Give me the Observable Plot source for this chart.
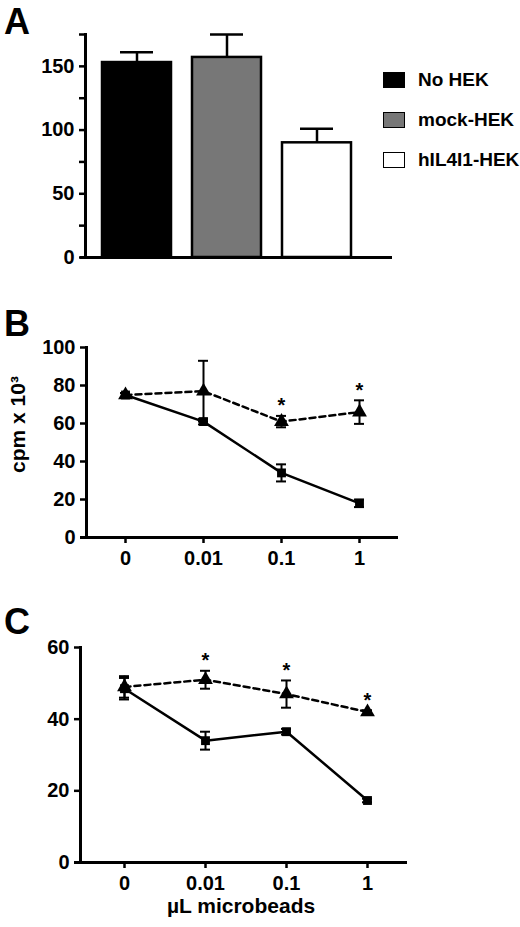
<!DOCTYPE html>
<html>
<head>
<meta charset="utf-8">
<script src="https://cdn.jsdelivr.net/npm/d3@7"></script>
<script src="https://cdn.jsdelivr.net/npm/@observablehq/plot@0.6"></script>
<style>
  body { margin: 0; background: white; font-family: "Liberation Sans", Arial, sans-serif; font-weight: bold; }
  #fig { position: relative; width: 520px; height: 927px; }
  .panel { position: absolute; left: 0; }
  .letter { position: absolute; left: 4px; font-size: 36px; line-height: 1; z-index: 2; }
  .legend { position: absolute; left: 383px; top: 60px; font-size: 19px; z-index: 2; }
  .legend div { display: flex; align-items: center; height: 40px; }
  .legend span.sw { display: inline-block; width: 20px; height: 14px; border: 1.5px solid #000; margin-right: 13px; }
</style>
</head>
<body>
<div id="fig">
  <div class="panel" id="pa" style="top:0"></div>
  <div class="panel" id="pb" style="top:300px"></div>
  <div class="panel" id="pc" style="top:600px"></div>
  <div class="letter" style="top:4px">A</div>
  <div class="letter" style="top:306px">B</div>
  <div class="letter" style="top:604px">C</div>
  <div class="legend" id="legend"></div>
</div>
<script>
// panel A
const groups = ["No HEK", "mock-HEK", "hIL4I1-HEK"];
const aMeans = [153, 157, 90];
const aErrs = [8, 18, 11];
const aColors = ["#000000", "#777777", "#ffffff"];

// panels B and C
const doses = ["0", "0.01", "0.1", "1"];
const bCtrl = [75, 61, 34, 18];
const bCtrlErr = [1, 1.5, 4.5, 2];
const bHil = [75, 77, 61, 66];
const bHilErr = [1, 16, 3, 6.2];
const bStar = [false, false, true, true];

const cCtrl = [48.5, 34, 36.5, 17.3];
const cCtrlErr = [3, 2.5, 0.8, 0.5];
const cHil = [49, 51, 47, 42];
const cHilErr = [3, 2.5, 3.8, 0.5];
const cStar = [false, true, true, true];

const font = {fontFamily: "Liberation Sans, Arial, sans-serif", fontWeight: "bold", fontSize: "20px", color: "#000", background: "white", overflow: "visible"};

const aData = groups.map((g, i) => ({group: g, mean: aMeans[i], hi: aMeans[i] + aErrs[i], color: aColors[i]}));

document.querySelector("#pa").append(
  Plot.plot({
    width: 520, height: 300,
    marginTop: 34, marginBottom: 43, marginLeft: 85, marginRight: 128,
    style: font,
    x: {domain: groups, range: [101, 352], paddingInner: 0.23, paddingOuter: 0, axis: null},
    y: {domain: [0, 175]},
    color: {type: "identity"},
    marks: [
      Plot.ruleX(aData, {x: "group", y1: "mean", y2: "hi", strokeWidth: 2.5}),
      Plot.tickY(aData, {x: "group", y: "hi", insetLeft: 18, insetRight: 18, strokeWidth: 2.5}),
      Plot.barY(aData, {x: "group", y: "mean", fill: "color", stroke: "black", strokeWidth: 2.5}),
      Plot.axisY({ticks: d3.range(0, 176, 25), tickSize: 6, tickPadding: 5, strokeWidth: 2.5,
        tickFormat: d => d % 50 === 0 ? d : "", label: null}),
      Plot.ruleY([0], {strokeWidth: 3, insetLeft: -5}),
      Plot.frame({anchor: "left", strokeWidth: 3})
    ]
  })
);

const legend = document.querySelector("#legend");
groups.forEach((g, i) => {
  const row = document.createElement("div");
  row.innerHTML = `<span class="sw" style="background:${aColors[i]}"></span>${g}`;
  legend.append(row);
});

function dosePlot(ctrl, ctrlErr, hil, hilErr, star, opts) {
  const c = doses.map((d, i) => ({dose: d, y: ctrl[i], lo: ctrl[i] - ctrlErr[i], hi: ctrl[i] + ctrlErr[i]}));
  const h = doses.map((d, i) => ({dose: d, y: hil[i], lo: hil[i] - hilErr[i], hi: hil[i] + hilErr[i], star: star[i]}));
  const cap = (data, y) => Plot.ruleY(data, {x1: "dose", x2: "dose", y, insetLeft: -5, insetRight: -5, strokeWidth: 2});
  const marks = [
    Plot.axisY({ticks: opts.yTicks, tickSize: 6, tickPadding: 5, strokeWidth: 2.5, label: null}),
    Plot.axisX({tickSize: 6, tickPadding: 7, strokeWidth: 2.5, label: null}),
    Plot.ruleY([0], {strokeWidth: 3, insetLeft: -6}),
    Plot.frame({anchor: "left", strokeWidth: 3}),
    Plot.ruleX(c, {x: "dose", y1: "lo", y2: "hi", strokeWidth: 2}),
    cap(c, "hi"),
    cap(c, "lo"),
    Plot.ruleX(h, {x: "dose", y1: "lo", y2: "hi", strokeWidth: 2}),
    cap(h, "hi"),
    cap(h, "lo"),
    Plot.line(h, {x: "dose", y: "y", strokeWidth: 2.5, strokeDasharray: "6,4"}),
    Plot.line(c, {x: "dose", y: "y", strokeWidth: 2.5}),
    Plot.dot(h, {x: "dose", y: "y", symbol: "triangle", r: 5.5, fill: "black"}),
    Plot.dot(c, {x: "dose", y: "y", symbol: "square", r: 5, fill: "black"}),
    Plot.text(h.filter(d => d.star), {x: "dose", y: "hi", text: () => "*", dy: -10, fontSize: 20})
  ];
  if (opts.yLabel) marks.push(Plot.text([opts.yLabel], {frameAnchor: "left", textAnchor: "middle", rotate: -90, dx: -68, dy: -18, fontSize: 21}));
  if (opts.xLabel) marks.push(Plot.text([opts.xLabel], {frameAnchor: "bottom", dx: -3, dy: 50, fontSize: 21}));
  return Plot.plot({
    width: 520, height: opts.height,
    marginTop: 47, marginBottom: opts.marginBottom, marginLeft: opts.marginLeft, marginRight: opts.marginRight,
    style: font,
    x: {domain: doses, type: "point", range: opts.xRange, padding: 0},
    y: {domain: opts.yDomain},
    marks
  });
}

document.querySelector("#pb").append(
  dosePlot(bCtrl, bCtrlErr, bHil, bHilErr, bStar, {
    height: 300, marginBottom: 63, marginLeft: 86, marginRight: 122,
    xRange: [125, 359], yDomain: [0, 100], yTicks: [0, 20, 40, 60, 80, 100],
    yLabel: "cpm x 10³"
  })
);

document.querySelector("#pc").append(
  dosePlot(cCtrl, cCtrlErr, cHil, cHilErr, cStar, {
    height: 327, marginBottom: 65, marginLeft: 80, marginRight: 113,
    xRange: [123, 367], yDomain: [0, 60], yTicks: [0, 20, 40, 60],
    xLabel: "µL microbeads"
  })
);
</script>
</body>
</html>
